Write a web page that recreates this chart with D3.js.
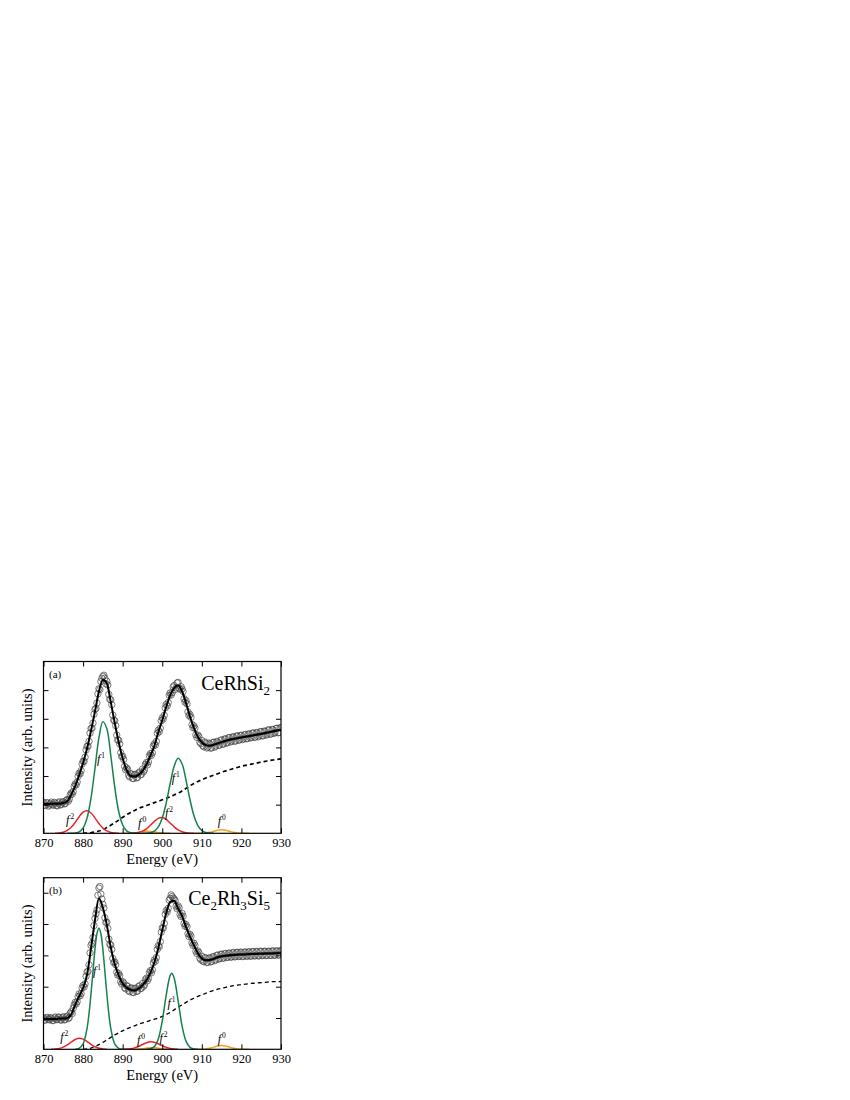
<!DOCTYPE html>
<html>
<head>
<meta charset="utf-8">
<script src="https://cdn.jsdelivr.net/npm/d3@7"></script>
<style>
  body { margin: 0; background: #fff; }
  svg text { font-family: "Liberation Serif", "Times New Roman", serif; fill: #000; }
</style>
</head>
<body>
<svg id="fig" width="850" height="1100"></svg>
<script>
// energy axis
let energyTicks = [870, 880, 890, 900, 910, 920, 930];

// ---- panel (a) CeRhSi2 ----
// measured points, 870 -> 930 every 0.5 eV
let dataA = [
  1.08, 0.97, 1.06, 0.99, 1.09, 0.98, 1.05, 0.96, 1.10, 1.01,
  1.09, 1.04, 1.18, 1.19, 1.41, 1.46, 1.72, 1.79, 2.10, 2.19,
  2.52, 2.66, 3.04, 3.21, 3.66, 3.85, 4.33, 4.55, 5.05, 5.30,
  5.48, 5.42, 5.31, 4.85, 4.66, 4.13, 3.93, 3.43, 3.25, 2.82,
  2.69, 2.34, 2.28, 2.03, 2.08, 1.92, 2.05, 1.94, 2.10, 2.04,
  2.24, 2.21, 2.47, 2.49, 2.78, 2.81, 3.12, 3.21, 3.60, 3.67,
  4.03, 4.12, 4.50, 4.57, 4.90, 4.91, 5.16, 5.08, 5.27, 5.03,
  5.04, 4.70, 4.63, 4.24, 4.15, 3.80, 3.75, 3.44, 3.43, 3.18,
  3.24, 3.02, 3.15, 3.01, 3.12, 2.99, 3.18, 3.05, 3.19, 3.08,
  3.26, 3.12, 3.30, 3.17, 3.34, 3.22, 3.36, 3.23, 3.40, 3.26,
  3.42, 3.30, 3.45, 3.31, 3.46, 3.35, 3.50, 3.36, 3.51, 3.40,
  3.55, 3.41, 3.56, 3.46, 3.61, 3.47, 3.62, 3.52, 3.67, 3.52,
  3.68
];
// measured points, 870.25 -> 929.75 every 0.5 eV
let dataA2 = [
  0.99, 1.07, 0.95, 1.04, 1.00, 1.08, 0.97, 1.06, 0.99, 1.10,
  1.03, 1.15, 1.12, 1.34, 1.37, 1.64, 1.69, 1.99, 2.08, 2.42,
  2.51, 2.91, 3.04, 3.50, 3.67, 4.16, 4.36, 4.87, 5.02, 5.41,
  5.52, 5.22, 5.18, 4.68, 4.49, 3.95, 3.76, 3.26, 3.12, 2.68,
  2.58, 2.22, 2.23, 1.97, 2.07, 1.91, 2.06, 1.95, 2.14, 2.06,
  2.15, 2.41, 2.39, 2.71, 2.72, 3.05, 3.08, 3.49, 3.55, 3.93,
  3.99, 4.38, 4.45, 4.82, 4.83, 5.11, 5.02, 5.25, 5.07, 5.12,
  4.95, 4.58, 4.52, 4.11, 4.05, 3.69, 3.67, 3.35, 3.38, 3.13,
  3.06, 3.19, 2.98, 3.15, 2.97, 3.17, 3.01, 3.21, 3.07, 3.25,
  3.11, 3.29, 3.15, 3.34, 3.19, 3.37, 3.21, 3.40, 3.25, 3.42,
  3.27, 3.44, 3.30, 3.47, 3.33, 3.50, 3.35, 3.52, 3.37, 3.55,
  3.40, 3.57, 3.43, 3.61, 3.46, 3.63, 3.49, 3.66, 3.51, 3.69
];
// fit, 870 -> 930 every 1 eV
let fitA = [
  1.02, 1.02, 1.03, 1.03, 1.04, 1.06, 1.12, 1.35, 1.65, 2.03,
  2.46, 2.96, 3.58, 4.25, 4.95, 5.36, 5.24, 4.58, 3.85, 3.18,
  2.62, 2.21, 2.01, 1.98, 2.04, 2.17, 2.40, 2.71, 3.05, 3.53,
  3.95, 4.42, 4.82, 5.07, 5.17, 4.96, 4.55, 4.08, 3.68, 3.36,
  3.17, 3.08, 3.06, 3.09, 3.14, 3.19, 3.23, 3.27, 3.30, 3.32,
  3.35, 3.37, 3.40, 3.42, 3.45, 3.47, 3.50, 3.53, 3.56, 3.59,
  3.61
];
// background, 880 -> 930 every 1 eV
let bgA = [
  0, 0.01, 0.02, 0.05, 0.08, 0.12, 0.20, 0.28, 0.37, 0.46,
  0.56, 0.65, 0.73, 0.80, 0.87, 0.92, 0.97, 1.02, 1.07, 1.12,
  1.17, 1.22, 1.28, 1.34, 1.40, 1.48, 1.57, 1.66, 1.74, 1.81,
  1.87, 1.93, 1.98, 2.03, 2.08, 2.13, 2.18, 2.22, 2.26, 2.30,
  2.34, 2.37, 2.40, 2.43, 2.46, 2.49, 2.51, 2.54, 2.56, 2.58,
  2.60
];
let f1A = [
  [[876,0],[877,0.002],[878,0.011],[879,0.05],[880,0.184],[881,0.53],[882,1.23],[883,2.27],[884,3.33],
   [885,3.90],[886,3.65],[887,2.71],[888,1.61],[889,0.76],[890,0.29],[891,0.086],[892,0.021],[893,0.004],[894,0]],
  [[895,0],[896,0.005],[897,0.022],[898,0.078],[899,0.224],[900,0.535],[901,1.06],[902,1.73],[903,2.34],
   [904,2.62],[905,2.43],[906,1.86],[907,1.18],[908,0.62],[909,0.27],[910,0.098],[911,0.029],[912,0.007],[913,0]]
];
let f2A = [
  [[873,0],[874,0.013],[875,0.039],[876,0.099],[877,0.21],[878,0.38],[879,0.58],[880,0.74],[881,0.79],
   [882,0.71],[883,0.54],[884,0.34],[885,0.18],[886,0.083],[887,0.031],[888,0.01],[889,0]],
  [[892,0],[893,0.01],[894,0.029],[895,0.074],[896,0.157],[897,0.28],[898,0.415],[899,0.52],[900,0.55],
   [901,0.485],[902,0.36],[903,0.226],[904,0.119],[905,0.053],[906,0.02],[907,0.006],[908,0]]
];
let f0A = [
  [[890,0],[891,0.001],[892,0.005],[893,0.015],[894,0.034],[895,0.055],[896,0.069],[897,0.065],
   [898,0.047],[899,0.025],[900,0.01],[901,0.003],[902,0]],
  [[908,0],[909,0.001],[910,0.004],[911,0.013],[912,0.034],[913,0.069],[914,0.105],[915,0.12],
   [916,0.105],[917,0.069],[918,0.034],[919,0.013],[920,0.004],[921,0.001],[922,0]]
];
let labelsA = [
  {n: '2', E: 875.7, I: 0.33}, {n: '1', E: 883.5, I: 2.46}, {n: '0', E: 893.9, I: 0.23},
  {n: '2', E: 900.7, I: 0.58}, {n: '1', E: 902.4, I: 1.80}, {n: '0', E: 914.0, I: 0.29}
];

// ---- panel (b) Ce2Rh3Si5 ----
let dataB = [
  1.01, 0.93, 1.02, 0.94, 0.99, 0.92, 1.03, 0.95, 1.02, 0.93,
  1.04, 0.95, 1.06, 1.01, 1.20, 1.31, 1.50, 1.52, 1.77, 1.78,
  2.04, 2.09, 2.47, 2.70, 3.32, 3.57, 4.18, 4.45, 5.15, 4.96,
  4.63, 4.20, 4.06, 3.52, 3.33, 2.90, 2.79, 2.46, 2.42, 2.16,
  2.16, 1.97, 2.03, 1.88, 1.95, 1.82, 1.94, 1.85, 2.00, 1.94,
  2.10, 2.06, 2.27, 2.26, 2.51, 2.54, 2.85, 2.93, 3.31, 3.44,
  3.88, 4.02, 4.43, 4.50, 4.82, 4.88, 4.80, 4.57, 4.58, 4.31,
  4.34, 4.02, 3.98, 3.69, 3.67, 3.40, 3.39, 3.13, 3.14, 2.91,
  2.97, 2.80, 2.91, 2.78, 2.92, 2.81, 2.96, 2.86, 3.01, 2.90,
  3.04, 2.92, 3.06, 2.94, 3.07, 2.95, 3.09, 2.96, 3.10, 2.97,
  3.10, 2.97, 3.11, 2.98, 3.11, 2.98, 3.12, 2.99, 3.12, 2.99,
  3.13, 3.00, 3.13, 3.00, 3.13, 3.00, 3.14, 3.01, 3.14, 3.01,
  3.14
];
let dataB2 = [
  0.94, 1.00, 0.96, 1.01, 0.92, 1.00, 0.95, 1.03, 0.94, 1.01,
  0.94, 1.03, 0.98, 1.15, 1.14, 1.41, 1.45, 1.68, 1.71, 1.96,
  1.99, 2.33, 2.49, 3.08, 3.38, 3.95, 4.33, 4.92, 5.20, 4.80,
  4.51, 4.05, 3.86, 3.35, 3.19, 2.77, 2.70, 2.37, 2.35, 2.09,
  2.12, 1.93, 2.01, 1.84, 1.96, 1.81, 1.95, 1.86, 2.03, 1.95,
  2.01, 2.22, 2.19, 2.45, 2.44, 2.76, 2.81, 3.19, 3.28, 3.74,
  3.87, 4.31, 4.39, 4.76, 4.93, 4.83, 4.75, 4.49, 4.52, 4.24,
  4.25, 3.93, 3.91, 3.60, 3.61, 3.32, 3.32, 3.06, 3.09, 2.86,
  2.82, 2.93, 2.77, 2.91, 2.79, 2.95, 2.83, 3.00, 2.88, 3.03,
  2.90, 3.05, 2.93, 3.07, 2.94, 3.08, 2.95, 3.09, 2.96, 3.10,
  2.96, 3.10, 2.97, 3.11, 2.97, 3.12, 2.98, 3.12, 2.98, 3.13,
  2.99, 3.13, 2.99, 3.13, 3.00, 3.14, 3.00, 3.14, 3.01, 3.15
];
let fitB = [
  0.97, 0.97, 0.97, 0.97, 0.98, 0.98, 1.00, 1.12, 1.42, 1.69,
  1.96, 2.38, 3.22, 4.12, 4.82, 4.52, 3.97, 3.25, 2.72, 2.36,
  2.10, 1.97, 1.90, 1.88, 1.94, 2.04, 2.20, 2.44, 2.77, 3.23,
  3.80, 4.35, 4.70, 4.74, 4.50, 4.26, 3.91, 3.60, 3.32, 3.07,
  2.90, 2.84, 2.85, 2.89, 2.94, 2.97, 2.99, 3.00, 3.01, 3.02,
  3.03, 3.03, 3.04, 3.04, 3.05, 3.05, 3.06, 3.06, 3.06, 3.07,
  3.07
];
let bgB = [
  0, 0.01, 0.04, 0.09, 0.15, 0.22, 0.30, 0.38, 0.46, 0.53,
  0.59, 0.65, 0.70, 0.75, 0.80, 0.84, 0.88, 0.92, 0.96, 1.00,
  1.05, 1.11, 1.18, 1.26, 1.34, 1.42, 1.50, 1.57, 1.63, 1.69,
  1.74, 1.79, 1.84, 1.88, 1.92, 1.95, 1.98, 2.01, 2.03, 2.05,
  2.07, 2.08, 2.10, 2.11, 2.12, 2.13, 2.14, 2.15, 2.16, 2.16,
  2.17
];
let f1B = [
  [[878,0],[879,0.029],[880,0.17],[881,0.67],[881.5,1.14],[882,1.77],[882.5,2.49],[883,3.19],[883.5,3.69],
   [884,3.87],[884.5,3.69],[885,3.19],[885.5,2.49],[886,1.77],[886.5,1.14],[887,0.67],[888,0.17],[889,0.029],[890,0]],
  [[896,0],[897,0.016],[898,0.085],[899,0.33],[900,0.90],[901,1.73],[902,2.36],[902.4,2.43],[903,2.28],
   [904,1.56],[905,0.75],[906,0.26],[907,0.062],[908,0.011],[909,0]]
];
let f2B = [
  [[872,0],[873,0.01],[874,0.03],[875,0.071],[876,0.141],[877,0.231],[878,0.312],[879,0.35],[880,0.324],
   [881,0.249],[882,0.158],[883,0.083],[884,0.036],[885,0.013],[886,0]],
  [[890,0],[891,0.006],[892,0.019],[893,0.045],[894,0.091],[895,0.152],[896,0.21],[897,0.239],[898,0.226],
   [899,0.177],[900,0.114],[901,0.061],[902,0.027],[903,0.01],[904,0]]
];
let f0B = [
  [[891,0],[892,0.001],[893,0.003],[894,0.009],[895,0.021],[896,0.037],[897,0.048],[898,0.048],
   [899,0.037],[900,0.021],[901,0.009],[902,0.003],[903,0]],
  [[908,0],[909,0.001],[910,0.004],[911,0.013],[912,0.034],[913,0.069],[914,0.105],[915,0.12],
   [916,0.105],[917,0.069],[918,0.034],[919,0.013],[920,0.004],[921,0.001],[922,0]]
];
let labelsB = [
  {n: '2', E: 874.2, I: 0.27}, {n: '1', E: 882.5, I: 2.37}, {n: '0', E: 893.6, I: 0.16},
  {n: '2', E: 899.3, I: 0.24}, {n: '1', E: 901.3, I: 1.36}, {n: '0', E: 914.0, I: 0.19}
];

let svg = d3.select('#fig');

function drawPanel(p) {
  let x = d3.scaleLinear().domain([870, 930]).range([43.5, 281]);
  let y = d3.scaleLinear().domain([0, p.yMax]).range([p.bottom, p.top]);
  let g = svg.append('g');

  let clipId = 'clip-' + p.key;
  g.append('clipPath').attr('id', clipId)
    .append('rect')
    .attr('x', x(870)).attr('y', y(p.yMax))
    .attr('width', x(930) - x(870)).attr('height', y(0) - y(p.yMax));

  let plot = g.append('g').attr('clip-path', `url(#${clipId})`);

  let smooth = d3.line().x(d => x(d[0])).y(d => y(d[1])).curve(d3.curveCatmullRom.alpha(0.5));
  let mono = d3.line().x(d => x(d[0])).y(d => y(d[1])).curve(d3.curveMonotoneX);

  // background
  plot.append('path')
    .attr('d', mono(p.bg.map((v, i) => [880 + i, v])))
    .style('fill', 'none')
    .style('stroke', '#000')
    .style('stroke-width', p.dashW)
    .style('stroke-dasharray', '4,3');

  // components
  let comps = [[p.f0, '#f5a21e'], [p.f2, '#e8252b'], [p.f1, '#16804f']];
  comps.forEach(c => {
    plot.selectAll(null)
      .data(c[0])
      .enter()
      .append('path')
      .attr('d', d => smooth(d))
      .style('fill', 'none')
      .style('stroke', c[1])
      .style('stroke-width', '1.5px');
  });

  // measured points
  let pts = p.data.map((v, i) => [870 + i * 0.5, v])
    .concat(p.data2.map((v, i) => [870.25 + i * 0.5, v]));

  plot.selectAll('circle.pt')
    .data(pts)
    .enter()
    .append('circle')
    .attr('class', 'pt')
    .attr('cx', d => x(d[0]))
    .attr('cy', d => y(d[1]))
    .attr('r', 3.2)
    .style('fill', 'none')
    .style('stroke', '#444')
    .style('stroke-width', '0.7px');

  // fit
  plot.append('path')
    .attr('d', mono(p.fit.map((v, i) => [870 + i, v])))
    .style('fill', 'none')
    .style('stroke', '#000')
    .style('stroke-width', '2px');

  // axes, ticks pointing inward
  let yTicks = [1, 2, 3, 4, 5];
  g.append('g').attr('transform', `translate(0,${p.bottom})`)
    .call(d3.axisBottom(x).tickValues(energyTicks).tickSize(-5).tickPadding(5).tickFormat(d3.format('d')));
  g.append('g').attr('transform', `translate(0,${p.top})`)
    .call(d3.axisTop(x).tickValues(energyTicks).tickSize(-5).tickFormat(''));
  g.append('g').attr('transform', `translate(${x(870)},0)`)
    .call(d3.axisLeft(y).tickValues(yTicks).tickSize(-5).tickFormat(''));
  g.append('g').attr('transform', `translate(${x(930)},0)`)
    .call(d3.axisRight(y).tickValues(yTicks).tickSize(-5).tickFormat(''));
  g.selectAll('.domain').remove();
  g.selectAll('.tick line').style('stroke', '#000').style('stroke-width', '1px');
  g.selectAll('.tick text').style('font-size', '12.5px').style('font-family', '"Liberation Serif", serif');

  g.append('rect')
    .attr('x', x(870)).attr('y', p.top)
    .attr('width', x(930) - x(870)).attr('height', p.bottom - p.top)
    .style('fill', 'none').style('stroke', '#000').style('stroke-width', '1.2px');

  // f^n labels
  let lab = g.selectAll('text.flab')
    .data(p.labels)
    .enter()
    .append('text')
    .attr('class', 'flab')
    .attr('x', d => x(d.E))
    .attr('y', d => y(d.I))
    .style('font-size', '12px');
  lab.append('tspan').text('f').style('font-style', 'italic');
  lab.append('tspan').attr('dy', -5).attr('dx', 1).style('font-size', '7.5px').text(d => d.n);

  // axis titles
  g.append('text')
    .attr('x', (x(870) + x(930)) / 2).attr('y', p.bottom + 31)
    .attr('text-anchor', 'middle')
    .style('font-size', '14.5px')
    .text('Energy (eV)');
  g.append('text')
    .attr('transform', `translate(${32},${(p.top + p.bottom) / 2}) rotate(-90)`)
    .attr('text-anchor', 'middle')
    .style('font-size', '14.5px')
    .text('Intensity (arb. units)');

  g.append('text')
    .attr('x', 49).attr('y', p.top + 16)
    .style('font-size', '11px')
    .text(p.tag);

  let f = g.append('text')
    .attr('x', 270).attr('y', p.top + p.formulaDy)
    .attr('text-anchor', 'end')
    .style('font-size', '20px');
  let shift = 0;
  p.formula.forEach(part => {
    let t = f.append('tspan').text(part[0]);
    if (part[1]) {
      t.attr('dy', 5 - shift).style('font-size', '13px');
      shift = 5;
    } else {
      t.attr('dy', -shift);
      shift = 0;
    }
  });
}

drawPanel({
  key: 'a', tag: '(a)', top: 661.5, bottom: 833.3, yMax: 6, dashW: '1.7px',
  data: dataA, data2: dataA2, fit: fitA, bg: bgA, f1: f1A, f2: f2A, f0: f0A, labels: labelsA,
  formula: [['CeRhSi', false], ['2', true]], formulaDy: 28
});

drawPanel({
  key: 'b', tag: '(b)', top: 877.7, bottom: 1049.3, yMax: 5.48, dashW: '1.3px',
  data: dataB, data2: dataB2, fit: fitB, bg: bgB, f1: f1B, f2: f2B, f0: f0B, labels: labelsB,
  formula: [['Ce', false], ['2', true], ['Rh', false], ['3', true], ['Si', false], ['5', true]], formulaDy: 27
});
</script>
</body>
</html>
